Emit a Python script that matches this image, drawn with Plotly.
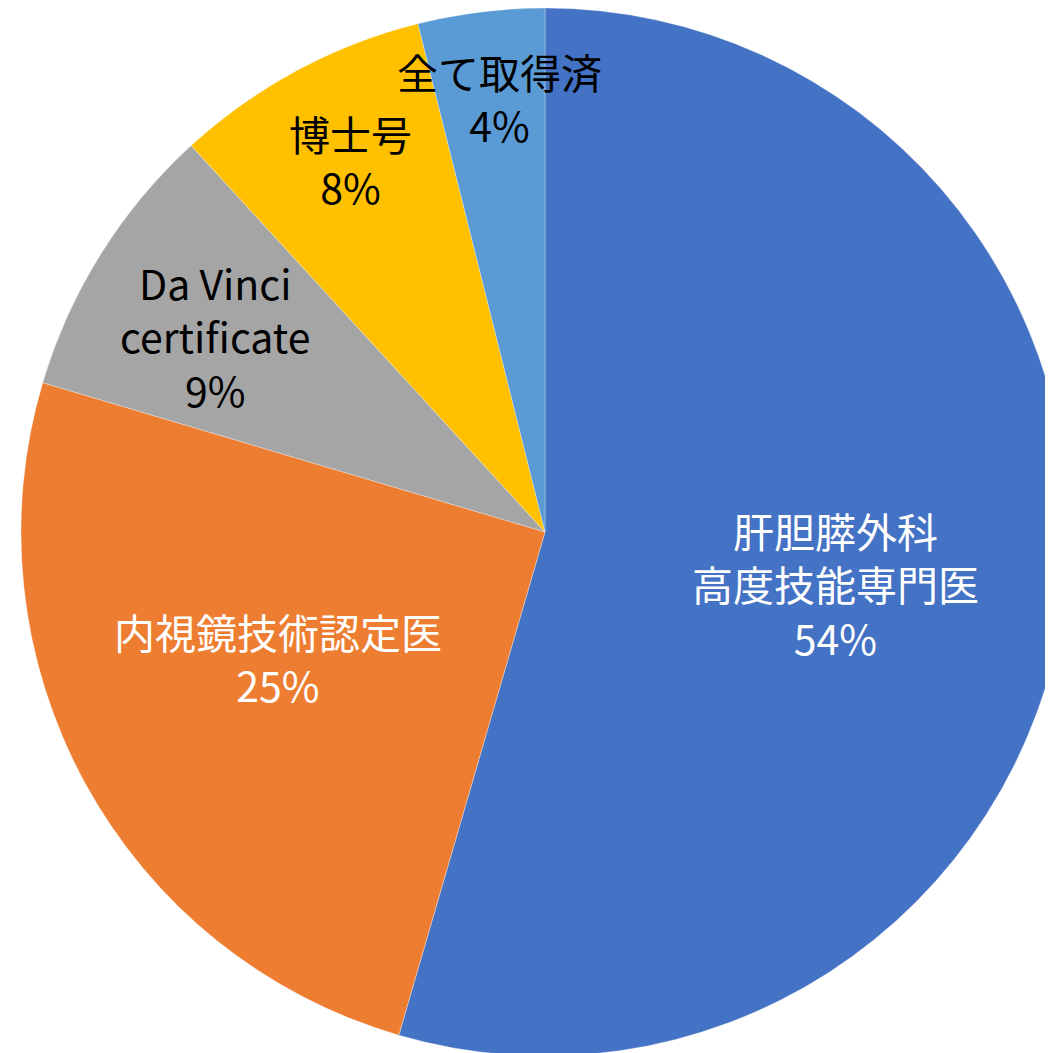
import math
import plotly.graph_objects as go

# ---- data ----
labels = ["肝胆膵外科<br>高度技能専門医", "内視鏡技術認定医", "Da Vinci<br>certificate", "博士号", "全て取得済"]
values = [54.5, 25.1, 8.6, 7.9, 3.9]
pct_text = ["54%", "25%", "9%", "8%", "4%"]

# ---- styles ----
colors = ["#4472C4", "#ED7D31", "#A5A5A5", "#FFC000", "#5B9BD5"]
text_colors = ["white", "white", "black", "black", "black"]
label_radius = [0.565, 0.566, 0.729, 0.796, 0.826]
label_angle_shift = [2.8, 2.8, -1.7, 0.4, 1.0]  # degrees

PAGE_OFF = 8  # default body margin of the html page
W, H = 1074, 1048
CX, CY, R = 537, 524, 524  # pie centre / radius in figure pixels

fig = go.Figure(go.Pie(
    labels=labels,
    values=values,
    sort=False,
    direction="clockwise",
    rotation=0,
    marker=dict(colors=colors, line=dict(color="rgba(255,255,255,0.5)", width=0.6)),
    textinfo="none",
    hoverinfo="skip",
    showlegend=False,
    domain=dict(x=[(CX - R) / W, (CX + R) / W], y=[1 - (CY + R) / H, 1 - (CY - R) / H]),
))

total = sum(values)
cum = 0.0
for lab, v, p, tc, f, sh in zip(labels, values, pct_text, text_colors, label_radius, label_angle_shift):
    mid = (cum + v / 2) / total * 2 * math.pi + math.radians(sh)
    cum += v
    px = CX + f * R * math.sin(mid)
    py = CY - f * R * math.cos(mid)
    fig.add_annotation(
        x=px / W, y=1 - py / H, xref="paper", yref="paper",
        text=f"{lab}<br>{p}", showarrow=False,
        xanchor="center", yanchor="middle", align="center", yshift=4,
        font=dict(family="Noto Sans CJK JP", size=41, color=tc),
    )

fig.update_layout(
    width=W, height=H,
    margin=dict(l=0, r=0, t=0, b=0),
    paper_bgcolor="white", plot_bgcolor="white",
)

fig.write_html("out.html")
